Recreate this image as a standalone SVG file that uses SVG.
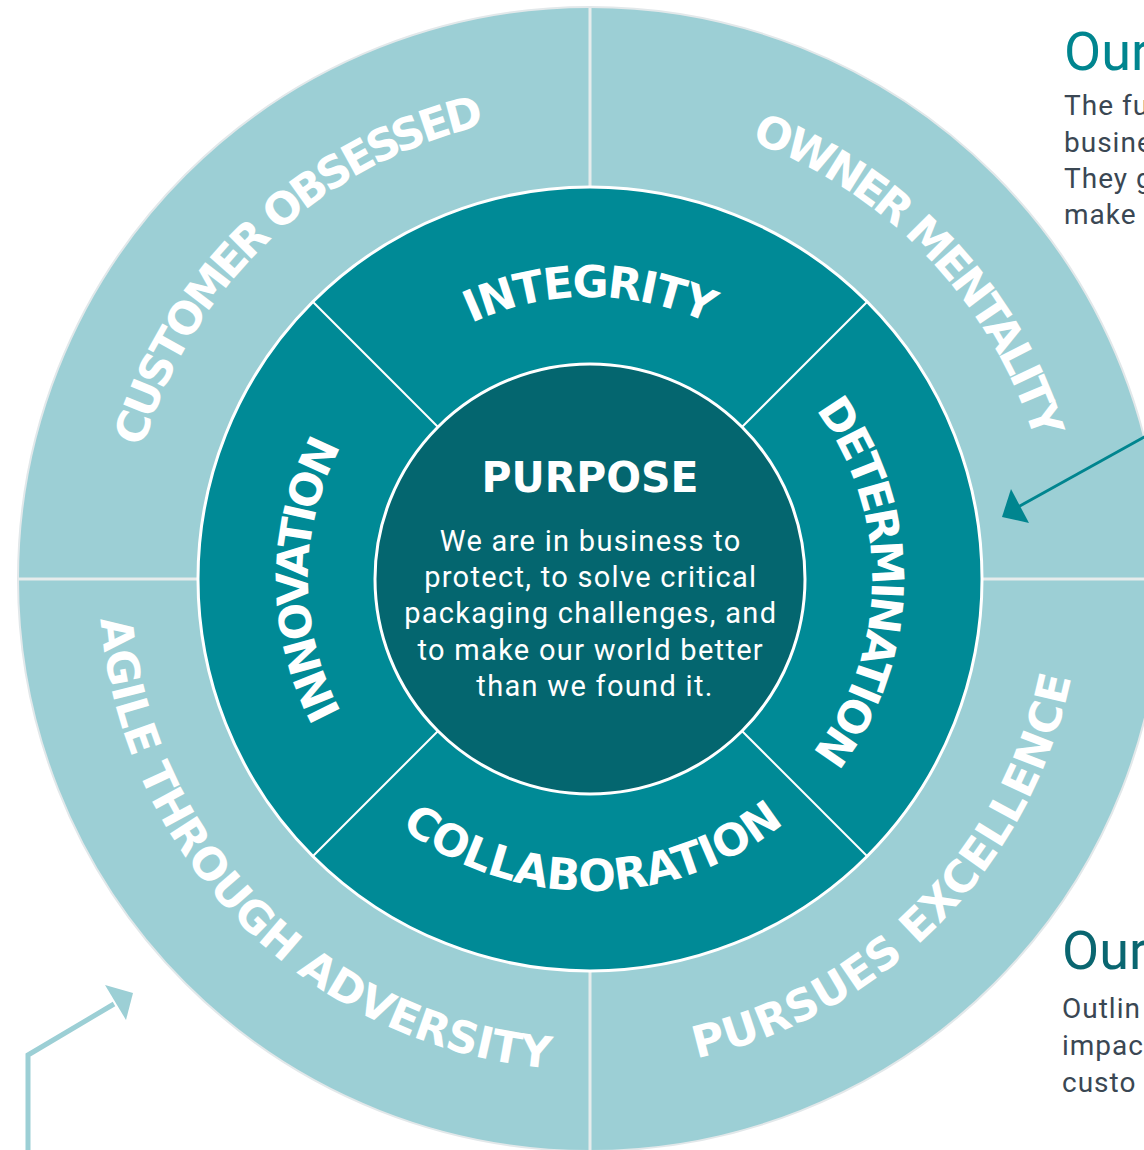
<svg xmlns="http://www.w3.org/2000/svg" width="1144" height="1150" viewBox="0 0 1144 1150">
<style>
.ring-label{font-family:"DejaVu Sans",Verdana,sans-serif;font-weight:bold;font-size:44px;fill:#ffffff}
.purpose-title{font-family:"DejaVu Sans",Verdana,sans-serif;font-weight:bold;font-size:43px;fill:#ffffff}
.purpose-body{font-family:Roboto,"Liberation Sans",sans-serif;font-size:29px;fill:#ffffff;letter-spacing:1.3px}
.side-title{font-family:Roboto,"Liberation Sans",sans-serif;font-size:54px}
.side-body{font-family:Roboto,"Liberation Sans",sans-serif;font-size:28px;fill:#3a4753;letter-spacing:1px}
.divider-outer{stroke:#e6ecec;stroke-width:3}
.divider-mid{stroke:#ffffff;stroke-width:2}
</style>
<defs>
<path id="p-customer" d="M124.2,565.2 A466,466 0 0 1 603.8,113.2"/>
<path id="p-owner" d="M601.4,113.1 A466,466 0 0 1 1055.9,590.4"/>
<path id="p-agile" d="M99,579 A491,491 0 0 0 590,1070"/>
<path id="p-pursues" d="M594.3,1070 A491,491 0 0 0 1081,574.7"/>
<path id="p-integrity" d="M390.6,379.6 A282,282 0 0 1 789.4,379.6"/>
<path id="p-innovation" d="M390.6,778.4 A282,282 0 0 1 390.6,379.6"/>
<path id="p-determination" d="M791.5,381.7 A282,282 0 0 1 787.3,780.5"/>
<path id="p-collaboration" d="M371.7,801.9 A312,312 0 0 0 812.9,797.3"/>
</defs>
<rect width="1144" height="1150" fill="#ffffff"/>

<g id="outer-ring">
<circle cx="590" cy="579" r="572" fill="#9ccfd5" stroke="#e2e8ea" stroke-width="2"/>
<line class="divider-outer" x1="590" y1="8" x2="590" y2="190"/>
<line class="divider-outer" x1="590" y1="968" x2="590" y2="1150"/>
<line class="divider-outer" x1="18" y1="579" x2="200" y2="579"/>
<line class="divider-outer" x1="980" y1="579" x2="1162" y2="579"/>
</g>

<g id="customer-obsessed">
<text class="ring-label"><textPath href="#p-customer" startOffset="50%" text-anchor="middle" textLength="493" lengthAdjust="spacing">CUSTOMER OBSESSED</textPath></text>
</g>
<g id="owner-mentality">
<text class="ring-label"><textPath href="#p-owner" startOffset="50%" text-anchor="middle" textLength="427" lengthAdjust="spacing">OWNER MENTALITY</textPath></text>
</g>
<g id="agile-through-adversity">
<text class="ring-label"><textPath href="#p-agile" startOffset="50%" text-anchor="middle" textLength="691" lengthAdjust="spacing">AGILE THROUGH ADVERSITY</textPath></text>
</g>
<g id="pursues-excellence">
<text class="ring-label"><textPath href="#p-pursues" startOffset="50%" text-anchor="middle" textLength="565" lengthAdjust="spacing">PURSUES EXCELLENCE</textPath></text>
</g>

<g id="middle-ring">
<circle cx="590" cy="579" r="392" fill="#008a96" stroke="#ffffff" stroke-width="3"/>
<line class="divider-mid" x1="438" y1="427" x2="312.8" y2="301.8"/>
<line class="divider-mid" x1="742" y1="427" x2="867.2" y2="301.8"/>
<line class="divider-mid" x1="438" y1="731" x2="312.8" y2="856.2"/>
<line class="divider-mid" x1="742" y1="731" x2="867.2" y2="856.2"/>
</g>

<g id="integrity">
<text class="ring-label"><textPath href="#p-integrity" startOffset="50%" text-anchor="middle" textLength="245" lengthAdjust="spacing">INTEGRITY</textPath></text>
</g>
<g id="innovation">
<text class="ring-label"><textPath href="#p-innovation" startOffset="50%" text-anchor="middle" textLength="277" lengthAdjust="spacing">INNOVATION</textPath></text>
</g>
<g id="determination">
<text class="ring-label"><textPath href="#p-determination" startOffset="50%" text-anchor="middle" textLength="369" lengthAdjust="spacing">DETERMINATION</textPath></text>
</g>
<g id="collaboration">
<text class="ring-label"><textPath href="#p-collaboration" startOffset="50%" text-anchor="middle" textLength="413" lengthAdjust="spacing">COLLABORATION</textPath></text>
</g>

<g id="purpose">
<circle cx="590" cy="579" r="215" fill="#04666f" stroke="#ffffff" stroke-width="3"/>
<text class="purpose-title" x="590" y="492" text-anchor="middle" textLength="217" lengthAdjust="spacingAndGlyphs">PURPOSE</text>
<text class="purpose-body" text-anchor="middle">
<tspan x="595" y="551">We are in business to</tspan>
<tspan x="595" y="587">protect, to solve critical</tspan>
<tspan x="595" y="623">packaging challenges, and</tspan>
<tspan x="595" y="660">to make our world better</tspan>
<tspan x="595" y="696">than we found it.</tspan>
</text>
</g>

<g id="text-block-top">
<text class="side-title" x="1064" y="70" fill="#00858f">Our</text>
<text class="side-body">
<tspan x="1064" y="115">The fu</tspan>
<tspan x="1064" y="152">busine</tspan>
<tspan x="1064" y="188">They g</tspan>
<tspan x="1064" y="224">make</tspan>
</text>
</g>

<g id="text-block-bottom">
<text class="side-title" x="1062" y="969" fill="#0a6670">Our</text>
<text class="side-body">
<tspan x="1062" y="1018">Outlin</tspan>
<tspan x="1062" y="1055">impac</tspan>
<tspan x="1062" y="1092">custo</tspan>
</text>
</g>

<g id="connectors">
<line x1="1146" y1="436" x2="1018" y2="507" stroke="#00858f" stroke-width="3"/>
<polygon points="1002,517 1011,489 1029,523" fill="#00858f"/>
<polyline points="28,1150 28,1055 114,1004" fill="none" stroke="#9ccfd5" stroke-width="5" stroke-linejoin="miter"/>
<polygon points="133,993 105,985 126,1020" fill="#9ccfd5"/>
</g>
</svg>
